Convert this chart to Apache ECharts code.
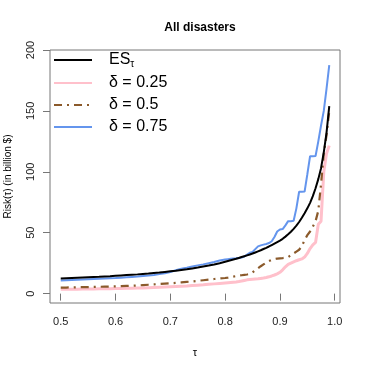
<!DOCTYPE html>
<html>
<head>
<meta charset="utf-8">
<script src="https://cdn.jsdelivr.net/npm/echarts@6/dist/echarts.min.js"></script>
<style>html,body{margin:0;padding:0;background:#fff}#c{width:366px;height:366px}</style>
</head>
<body>
<div id="c"></div>
<script>
var tau = [0.50,0.51,0.52,0.53,0.54,0.55,0.56,0.57,0.58,0.59,0.60,0.61,0.62,0.63,0.64,0.65,0.66,0.67,0.68,0.69,0.70,0.71,0.72,0.73,0.74,0.75,0.76,0.77,0.78,0.79,0.80,
0.805,0.81,0.815,0.82,0.825,0.83,0.835,0.84,0.845,0.85,0.855,0.86,0.865,0.87,0.875,0.88,0.885,0.89,0.895,0.90,0.905,0.91,0.915,0.92,0.925,0.93,0.935,0.94,0.945,0.95,0.955,0.96,0.965,0.97,0.975,0.98,0.985,0.99];

var esVals = [12.4,12.6,12.8,13.0,13.2,13.4,13.6,13.8,14.1,14.3,14.6,14.9,15.2,15.5,15.8,16.2,16.5,16.9,17.3,17.8,18.3,18.8,19.4,20.0,20.7,21.4,22.2,23.0,23.9,25.0,26.2,
26.8,27.4,28.0,28.6,29.3,30.0,30.7,31.4,32.1,32.9,33.8,34.7,35.6,36.6,37.6,38.7,39.9,41.1,42.3,43.5,45.0,46.8,48.7,50.8,53.2,55.8,58.8,62.3,66.0,70.0,74.5,80.0,86.5,94.0,103.0,116.0,132.0,154.0];

var d25Vals = [3.5,3.5,3.6,3.6,3.7,3.7,3.8,3.9,4.0,4.1,4.2,4.3,4.4,4.5,4.6,4.7,4.9,5.1,5.3,5.5,5.7,5.9,6.1,6.3,6.6,6.9,7.2,7.6,8.0,8.4,8.8,
9.0,9.2,9.4,9.6,9.9,10.3,10.8,11.3,11.6,11.8,12.0,12.2,12.5,12.8,13.2,13.8,14.5,15.3,16.2,17.5,19.5,22.0,24.0,25.0,26.0,27.0,27.8,28.5,30.0,33.0,37.0,40.0,42.0,57.0,59.5,100.0,115.0,121.5];

var d50Vals = [4.9,5.0,5.1,5.2,5.3,5.4,5.5,5.6,5.7,5.8,5.9,6.1,6.3,6.5,6.7,7.0,7.3,7.6,7.9,8.2,8.5,8.8,9.2,9.6,10.0,10.5,11.0,11.5,12.0,12.4,12.8,
13.1,13.5,14.0,14.4,14.8,15.1,15.4,15.7,16.2,17.5,19.0,20.8,22.5,24.0,25.5,26.8,27.8,28.3,28.8,29.0,29.2,29.5,30.0,31.5,33.0,34.5,36.0,39.0,44.0,48.0,51.0,55.0,59.5,68.0,90.0,115.0,130.0,150.0];

var d75Vals = [10.8,11.0,11.2,11.4,11.6,11.8,12.0,12.2,12.4,12.6,12.8,13.1,13.4,13.7,14.0,14.4,14.8,15.3,16.0,16.8,17.8,19.2,20.5,21.3,22.3,23.2,24.0,25.0,26.0,27.2,28.0,
28.3,28.6,28.8,29.0,29.3,29.6,30.5,32.0,33.6,34.2,36.5,38.8,39.6,40.2,40.8,41.5,43.0,46.5,51.0,52.7,53.0,56.0,59.5,59.5,59.8,70.0,83.6,83.6,83.8,98.0,112.8,112.8,113.0,125.0,138.0,150.0,168.0,187.5];

var xTicks = [0.5,0.6,0.7,0.8,0.9,1.0];
var yTicks = [0,50,100,150,200];

function zip(vals){ return tau.map(function(t,i){ return [t, vals[i]]; }); }

var FONT = 'Liberation Sans, Arial, Helvetica, sans-serif';
var chart = echarts.init(document.getElementById('c'), null, {renderer:'canvas'});
chart.setOption({
  animation: false,
  backgroundColor: '#fff',
  title: {
    text: 'All disasters', left: 195, top: 17, textAlign: 'center',
    textStyle: {fontFamily: FONT, fontSize: 12, fontWeight: 'bold', color: '#000'}
  },
  grid: {left: 50, right: 26, top: 50, bottom: 63, show: true, borderColor: '#777', borderWidth: 1,
    backgroundColor: 'transparent', containLabel: false, outerBoundsMode: 'none'},
  legend: {
    orient: 'vertical', left: 53, top: 51, padding: 0,
    itemWidth: 38, itemHeight: 14, itemGap: 6,
    itemStyle: {opacity: 0},
    data: ['ES', 'δ = 0.25', 'δ = 0.5', 'δ = 0.75'],
    formatter: function(n){ return n === 'ES' ? '{a|ES}{s|τ}' : '{a|' + n + '}'; },
    textStyle: {
      fontFamily: FONT, fontSize: 16, color: '#000', padding: [0,0,0,12],
      rich: {
        a: {fontFamily: FONT, fontSize: 16, color: '#000', lineHeight: 16},
        s: {fontFamily: FONT, fontSize: 10, color: '#000', padding: [8,0,0,0], lineHeight: 16}
      }
    }
  },
  xAxis: {
    type: 'value', min: 0.4804, max: 1.0096,
    name: 'τ', nameLocation: 'middle', nameGap: 44,
    nameTextStyle: {fontFamily: FONT, fontSize: 11, color: '#000'},
    axisLine: {show: false},
    splitLine: {show: false},
    axisTick: {show: true, length: 7, lineStyle: {color: '#777'}, customValues: xTicks},
    axisLabel: {fontFamily: FONT, fontSize: 11, color: '#222', margin: 13, customValues: xTicks,
      formatter: function(v){ return v.toFixed(1); }}
  },
  yAxis: {
    type: 'value', min: -7.7, max: 200,
    name: 'Risk(τ) (in billion $)', nameLocation: 'middle', nameGap: 37, nameRotate: 90,
    nameTextStyle: {fontFamily: FONT, fontSize: 10, color: '#000'},
    axisLine: {show: false},
    splitLine: {show: false},
    axisTick: {show: true, length: 7, lineStyle: {color: '#777'}, customValues: yTicks},
    axisLabel: {fontFamily: FONT, fontSize: 11, color: '#222', rotate: 90, margin: 14, customValues: yTicks}
  },
  series: [
    {name: 'ES', type: 'line', data: zip(esVals), showSymbol: false, symbol: 'none',
      lineStyle: {color: '#000', width: 2}, itemStyle: {color: '#000'}, z: 5},
    {name: 'δ = 0.25', type: 'line', data: zip(d25Vals), showSymbol: false, symbol: 'none',
      lineStyle: {color: '#FFC0CB', width: 3}, itemStyle: {color: '#FFC0CB'}, z: 2},
    {name: 'δ = 0.5', type: 'line', data: zip(d50Vals), showSymbol: false, symbol: 'none',
      lineStyle: {color: '#8B5A2B', width: 2.2, type: [8,5,2,5]}, itemStyle: {color: '#8B5A2B'}, z: 3},
    {name: 'δ = 0.75', type: 'line', data: zip(d75Vals), showSymbol: false, symbol: 'none',
      lineStyle: {color: '#6495ED', width: 2}, itemStyle: {color: '#6495ED'}, z: 4}
  ]
});
</script>
</body>
</html>
